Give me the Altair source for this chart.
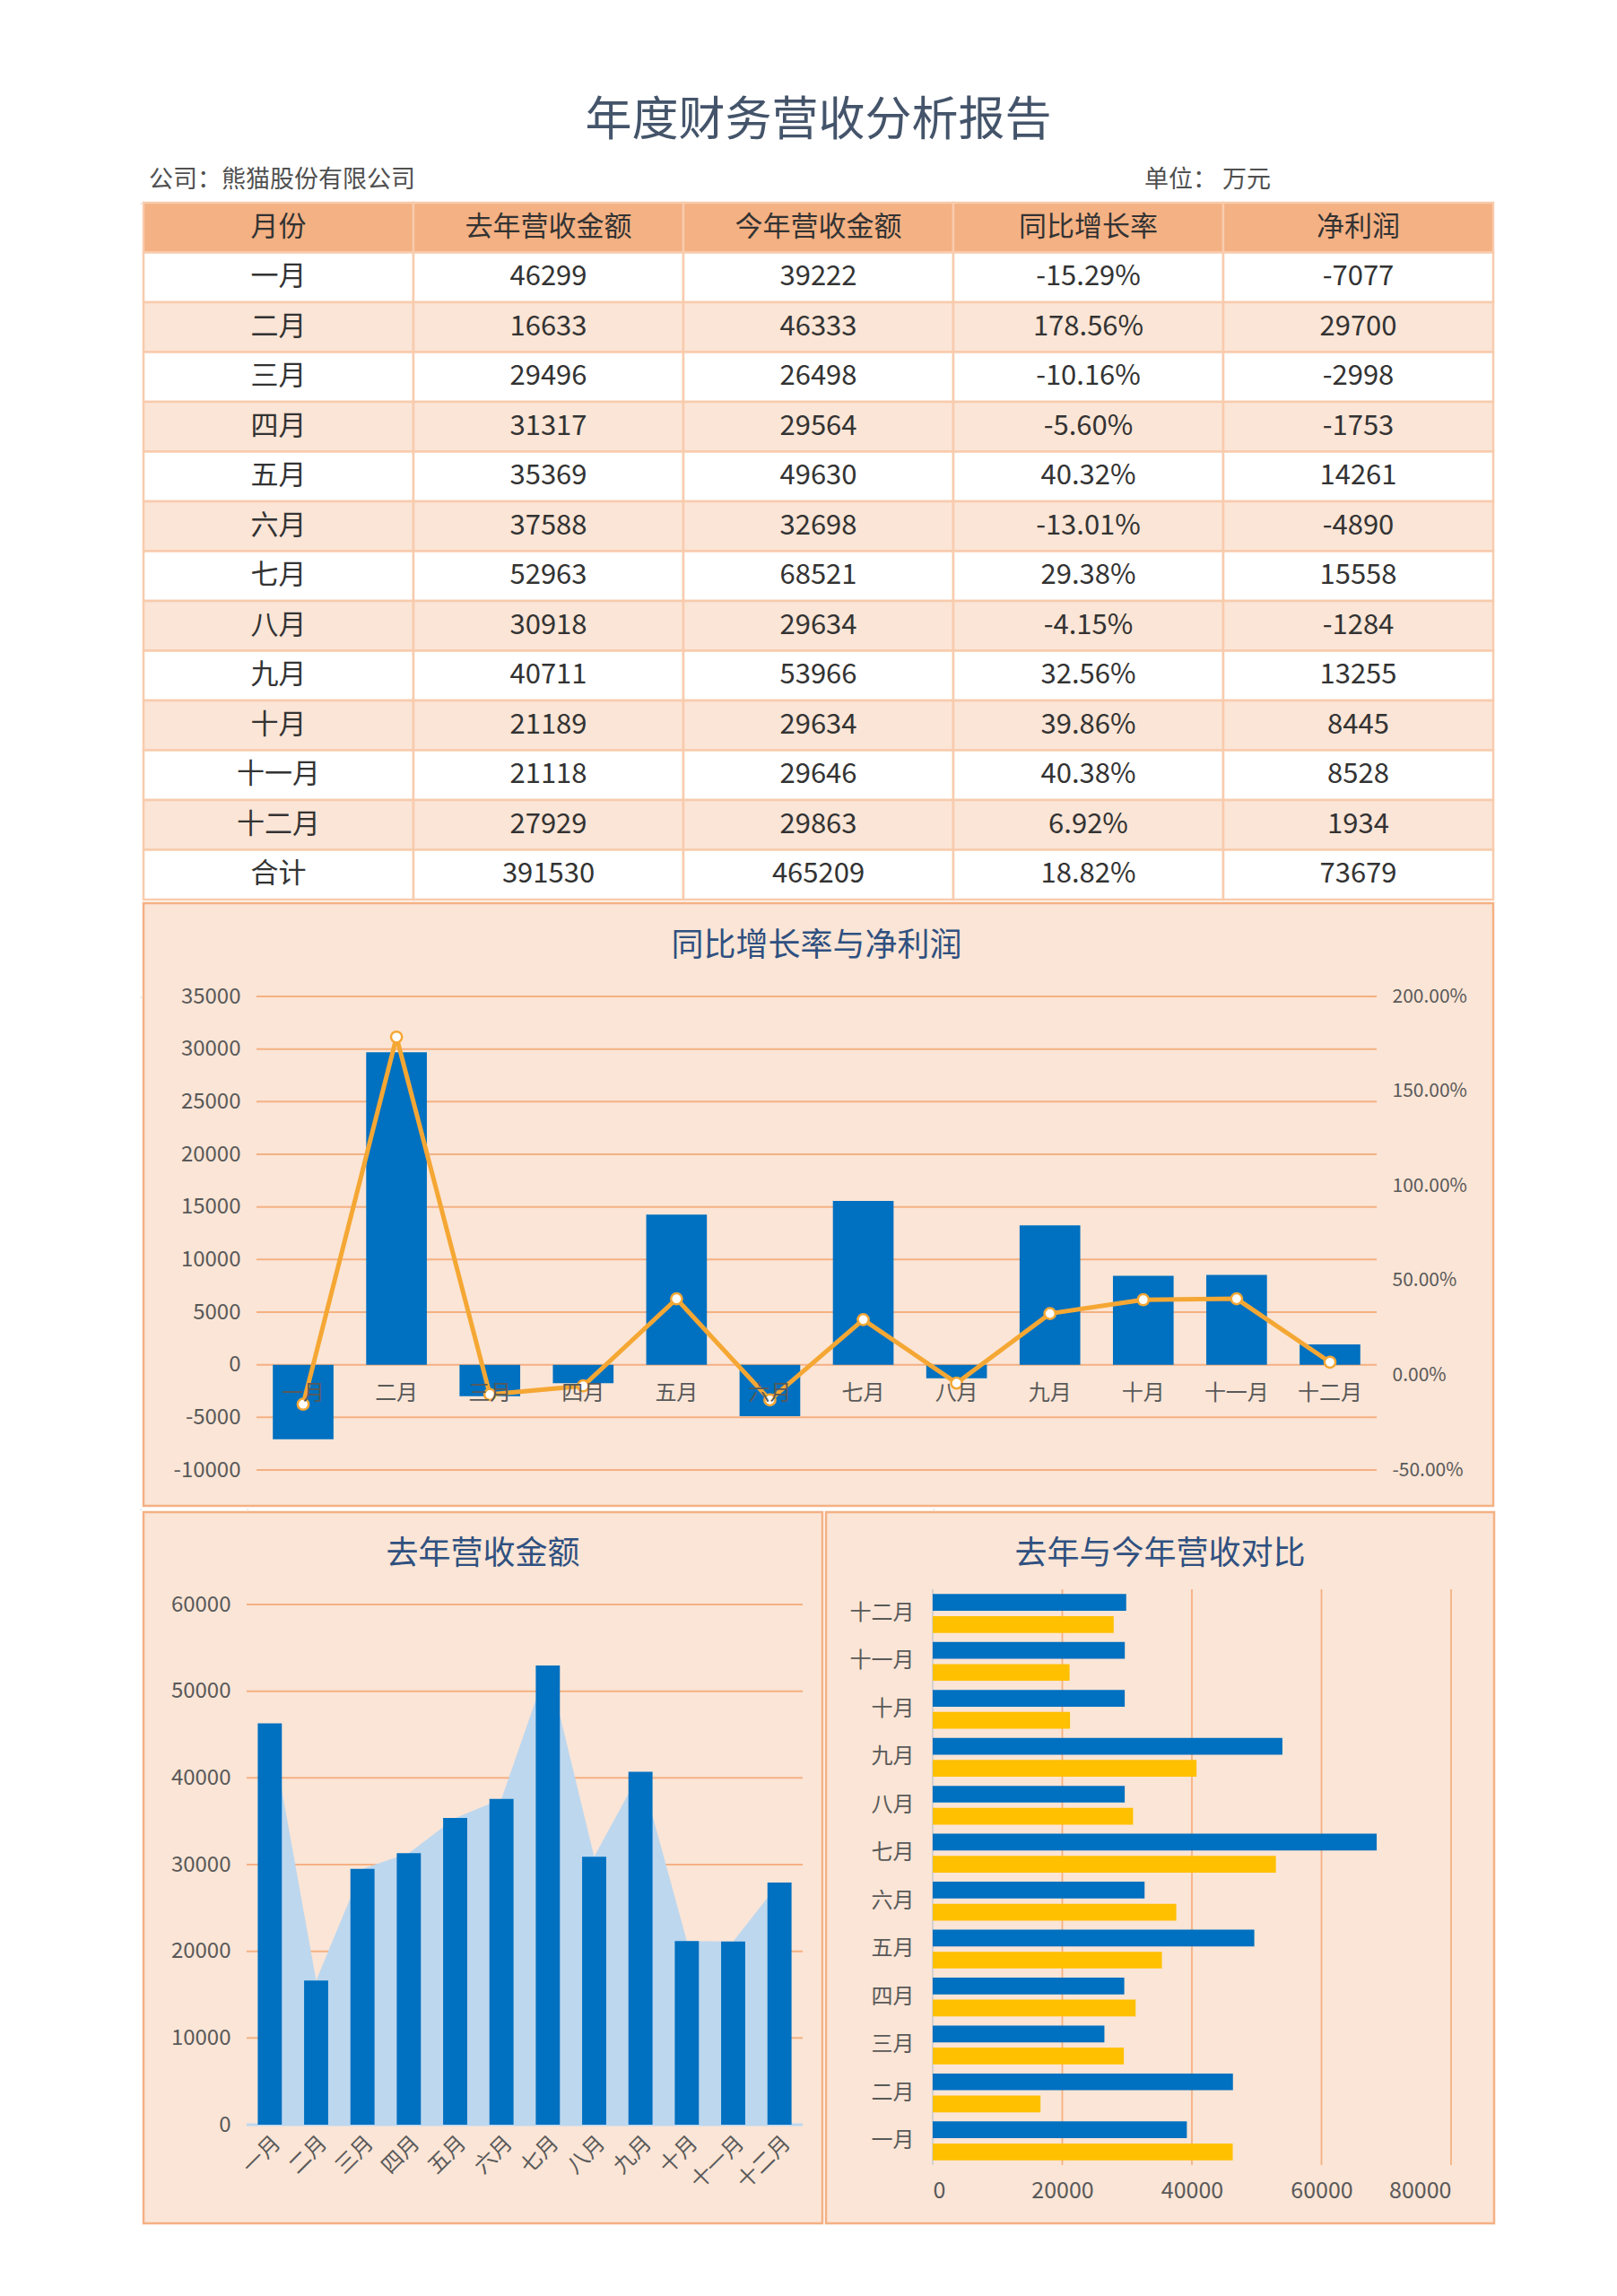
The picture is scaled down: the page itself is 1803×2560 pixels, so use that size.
import altair as alt
import pandas as pd

# ---------------- data ----------------
months = ["一月", "二月", "三月", "四月", "五月", "六月", "七月", "八月", "九月", "十月", "十一月", "十二月"]
last_year = [46299, 16633, 29496, 31317, 35369, 37588, 52963, 30918, 40711, 21189, 21118, 27929]
this_year = [39222, 46333, 26498, 29564, 49630, 32698, 68521, 29634, 53966, 29634, 29646, 29863]
growth = [-15.29, 178.56, -10.16, -5.60, 40.32, -13.01, 29.38, -4.15, 32.56, 39.86, 40.38, 6.92]
net_profit = [-7077, 29700, -2998, -1753, 14261, -4890, 15558, -1284, 13255, 8445, 8528, 1934]
total_label = "合计"
totals = [391530, 465209, 18.82, 73679]
headers = ["月份", "去年营收金额", "今年营收金额", "同比增长率", "净利润"]

main_title = "年度财务营收分析报告"
company_text = "公司：熊猫股份有限公司"
unit_text = "单位：  万元"
combo_title = "同比增长率与净利润"
bl_title = "去年营收金额"
br_title = "去年与今年营收对比"
series_names = ["今年", "去年"]

combo_left_ticks = [-10000, -5000, 0, 5000, 10000, 15000, 20000, 25000, 30000, 35000]
combo_right_ticks = [-50, 0, 50, 100, 150, 200]
bl_ticks = [0, 10000, 20000, 30000, 40000, 50000, 60000]
br_ticks = [0, 20000, 40000, 60000, 80000]

# ---------------- style ----------------
FONT = "Noto Sans CJK SC"
BLUE = "#0070C0"
YELLOW = "#FFC000"
LINE_ORANGE = "#F5A734"
PEACH = "#FBE5D6"
HEADER = "#F4B183"
BORDER = "#F4B183"
CELL_BORDER = "#F8CBAD"
GRID = "#F4B183"
LIGHTBLUE = "#BDD7EE"
TITLE_C = "#2F5080"
AX = "#595959"
ONE = pd.DataFrame({"k": [0]})


def deco_rect(x1, x2, y1, y2, fill, stroke=None, sw=0):
    kw = dict(fill=fill)
    if stroke:
        kw.update(stroke=stroke, strokeWidth=sw)
    else:
        kw.update(strokeWidth=0)
    return alt.Chart(ONE).mark_rect(**kw).encode(
        x=alt.value(x1), x2=alt.value(x2), y=alt.value(y1), y2=alt.value(y2))


def deco_text(x, y, text, size, color, align="center"):
    return alt.Chart(ONE).mark_text(
        fontSize=size, color=color, align=align, baseline="middle", font=FONT
    ).encode(x=alt.value(x), y=alt.value(y), text=alt.value(text))


def spacer():
    return deco_rect(0, 1, 0, 1, "#FFFFFF").properties(width=1, height=1)


NOMINUS = "replace({}, '\u2212', '-')"

# ---------------- table ----------------
cells = []
for c, h in enumerate(headers):
    cells.append({"row": 0, "col": c, "text": h, "kind": "header"})
for i, m in enumerate(months):
    vals = [m, str(last_year[i]), str(this_year[i]), f"{growth[i]:.2f}%", str(net_profit[i])]
    kind = "white" if i % 2 == 0 else "peach"
    for c, v in enumerate(vals):
        cells.append({"row": i + 1, "col": c, "text": v, "kind": kind})
tot_vals = [total_label, str(totals[0]), str(totals[1]), f"{totals[2]:.2f}%", str(totals[3])]
for c, v in enumerate(tot_vals):
    cells.append({"row": 13, "col": c, "text": v, "kind": "white"})
cells_df = pd.DataFrame(cells)

TW, TH = 1505, 777
tbase = alt.Chart(cells_df).encode(
    x=alt.X("col:O", axis=None, scale=alt.Scale(paddingInner=0, paddingOuter=0)),
    y=alt.Y("row:O", axis=None, scale=alt.Scale(paddingInner=0, paddingOuter=0)),
)
t_rect = tbase.mark_rect(stroke=CELL_BORDER, strokeWidth=2.5).encode(
    fill=alt.Fill("kind:N", scale=alt.Scale(domain=["header", "white", "peach"],
                                            range=[HEADER, "#FFFFFF", PEACH]), legend=None)
)
t_text = tbase.mark_text(fontSize=31, font=FONT, color="#333333").encode(text="text:N")

table_chart = alt.layer(
    deco_rect(0, TW, -217, 0, "#FFFFFF"),
    deco_text(TW / 2, -91, main_title, 52, "#44546A"),
    deco_text(6, -25, company_text, 27, "#505050", align="left"),
    deco_text(1116, -25, unit_text, 27, "#505050", align="left"),
    t_rect,
    t_text,
).properties(width=TW, height=TH)

# ---------------- combo chart ----------------
CW, CH = 1249, 528
combo_df = pd.DataFrame({"month": months, "net": net_profit, "growth": growth})
zero_offset = -(CH - CH * 35000 / 45000)
cx = alt.X("month:N", sort=months, title=None,
           scale=alt.Scale(paddingInner=0.35, paddingOuter=0.175),
           axis=alt.Axis(orient="bottom", offset=zero_offset, domain=False, ticks=False,
                         labelAngle=0, labelFontSize=24, labelColor=AX, labelPadding=20,
                         labelFont=FONT, zindex=1))
left_scale = alt.Scale(domain=[-10000, 35000], nice=False)

c_grid = alt.Chart(pd.DataFrame({"v": combo_left_ticks})).mark_rule(
    color=GRID, strokeWidth=2).encode(y=alt.Y("v:Q", scale=left_scale, axis=None))
c_bars = alt.Chart(combo_df).mark_bar(color=BLUE).encode(
    x=cx,
    y=alt.Y("net:Q", scale=left_scale, title=None,
            axis=alt.Axis(orient="left", values=combo_left_ticks, grid=False, domain=False,
                          ticks=False, labelFontSize=24, labelColor=AX, labelPadding=18,
                          labelFont=FONT, zindex=1,
                          labelExpr=NOMINUS.format("format(datum.value, 'd')"))),
)
c_line = alt.Chart(combo_df).mark_line(
    color=LINE_ORANGE, strokeWidth=5,
    point=alt.OverlayMarkDef(filled=True, fill="#FFFFFF", stroke=LINE_ORANGE,
                             strokeWidth=2.5, size=150)
).encode(
    x=cx,
    y=alt.Y("growth:Q", scale=alt.Scale(domain=[-50, 200], nice=False), title=None,
            axis=alt.Axis(orient="right", values=combo_right_ticks, grid=False, domain=False,
                          ticks=False, labelFontSize=21, labelColor=AX, labelPadding=17,
                          labelFont=FONT, zindex=1,
                          labelExpr=NOMINUS.format("format(datum.value, '.2f')") + " + '%'")),
)
combo = alt.layer(
    deco_rect(-126, 1379, -104, 568, PEACH, BORDER, 2.5),
    deco_text(CW / 2, -56, combo_title, 36, TITLE_C),
    c_grid,
    c_bars,
    c_line,
).resolve_scale(y="independent").properties(width=CW, height=CH)

# ---------------- bottom-left ----------------
BLW, BLH = 620, 580
bl_df = pd.DataFrame({"month": months, "value": last_year})
bl_y_scale = alt.Scale(domain=[0, 60000], nice=False)
bl_y_axis = alt.Axis(values=bl_ticks, grid=False, domain=False, ticks=False,
                     labelFontSize=24, labelColor=AX, labelPadding=18,
                     labelFont=FONT, zindex=1, labelExpr="format(datum.value, 'd')")
blx = alt.X("month:N", sort=months, title=None, bandPosition=0.5,
            scale=alt.Scale(paddingInner=0.48, paddingOuter=0.24),
            axis=alt.Axis(labelAngle=-45, domain=False, ticks=False, labelFontSize=24,
                          labelColor=AX, labelPadding=8, labelFont=FONT, zindex=1))
bl_grid = alt.Chart(pd.DataFrame({"v": bl_ticks[1:]})).mark_rule(
    color=GRID, strokeWidth=2).encode(y=alt.Y("v:Q", scale=bl_y_scale, axis=bl_y_axis, title=None))
bl_area = alt.Chart(bl_df).mark_area(color=LIGHTBLUE, opacity=1).encode(
    x=blx,
    y=alt.Y("value:Q", scale=bl_y_scale, axis=bl_y_axis, title=None),
)
bl_zero = alt.Chart(pd.DataFrame({"v": bl_ticks[:1]})).mark_rule(
    color=LIGHTBLUE, strokeWidth=3).encode(y=alt.Y("v:Q", scale=bl_y_scale, axis=bl_y_axis, title=None))
bl_bars = alt.Chart(bl_df).mark_bar(color=BLUE).encode(
    x=blx,
    y=alt.Y("value:Q", scale=bl_y_scale, axis=bl_y_axis, title=None),
)
bl_chart = alt.layer(
    deco_rect(-115, 642, -103, 690, PEACH, BORDER, 2.5),
    deco_text(263.5, -56, bl_title, 36, TITLE_C),
    bl_grid,
    bl_area,
    bl_zero,
    bl_bars,
).properties(width=BLW, height=BLH)

# ---------------- bottom-right ----------------
BRW, BRH = 578, 642
br_rows = []
for i, m in enumerate(months):
    br_rows.append({"month": m, "series": series_names[0], "value": this_year[i]})
    br_rows.append({"month": m, "series": series_names[1], "value": last_year[i]})
br_df = pd.DataFrame(br_rows)
br_x_scale = alt.Scale(domain=[0, 80000], nice=False)
br_x_axis = alt.Axis(values=br_ticks, grid=False, domain=False, ticks=False,
                     labelFontSize=25, labelColor=AX, labelPadding=16,
                     labelFont=FONT, zindex=1, labelExpr="format(datum.value, 'd')")
br_grid = alt.Chart(pd.DataFrame({"v": br_ticks[1:]})).mark_rule(
    color=GRID, strokeWidth=1.8).encode(x=alt.X("v:Q", scale=br_x_scale, axis=br_x_axis, title=None))
br_zero = alt.Chart(pd.DataFrame({"v": br_ticks[:1]})).mark_rule(
    color="#D0CECE", strokeWidth=1.8).encode(x=alt.X("v:Q", scale=br_x_scale, axis=br_x_axis, title=None))
br_bars = alt.Chart(br_df).mark_bar().encode(
    y=alt.Y("month:N", sort=months[::-1], title=None,
            scale=alt.Scale(paddingInner=0.19, paddingOuter=0.1),
            axis=alt.Axis(domain=False, ticks=False, labelFontSize=24, labelColor=AX,
                          labelPadding=21, labelFont=FONT, zindex=1)),
    yOffset=alt.YOffset("series:N", sort=series_names,
                        scale=alt.Scale(paddingInner=0.24, paddingOuter=0)),
    x=alt.X("value:Q", scale=br_x_scale, axis=br_x_axis, title=None),
    color=alt.Color("series:N", scale=alt.Scale(domain=series_names, range=[BLUE, YELLOW]),
                    legend=None),
)
br_chart = alt.layer(
    deco_rect(-119, 626, -86, 707, PEACH, BORDER, 2.5),
    deco_text(253.5, -39, br_title, 36, TITLE_C),
    br_grid,
    br_zero,
    br_bars,
).properties(width=BRW, height=BRH)

# ---------------- layout ----------------
row1 = alt.hconcat(spacer(), table_chart, spacing=0)
row2 = alt.hconcat(spacer(), combo, spacing=0)
row3 = alt.hconcat(
    spacer(),
    alt.vconcat(spacer(), bl_chart, spacing=0),
    alt.vconcat(spacer(), br_chart, spacing=0),
    spacing=0,
)

chart = alt.vconcat(row1, row2, row3, spacing=0).properties(
    padding={"left": 147, "top": 0, "right": 5, "bottom": 5},
    background="#FFFFFF",
).configure_view(stroke=None).configure(font=FONT)

chart.save("out.html", embed_options={"renderer": "svg", "actions": False})
